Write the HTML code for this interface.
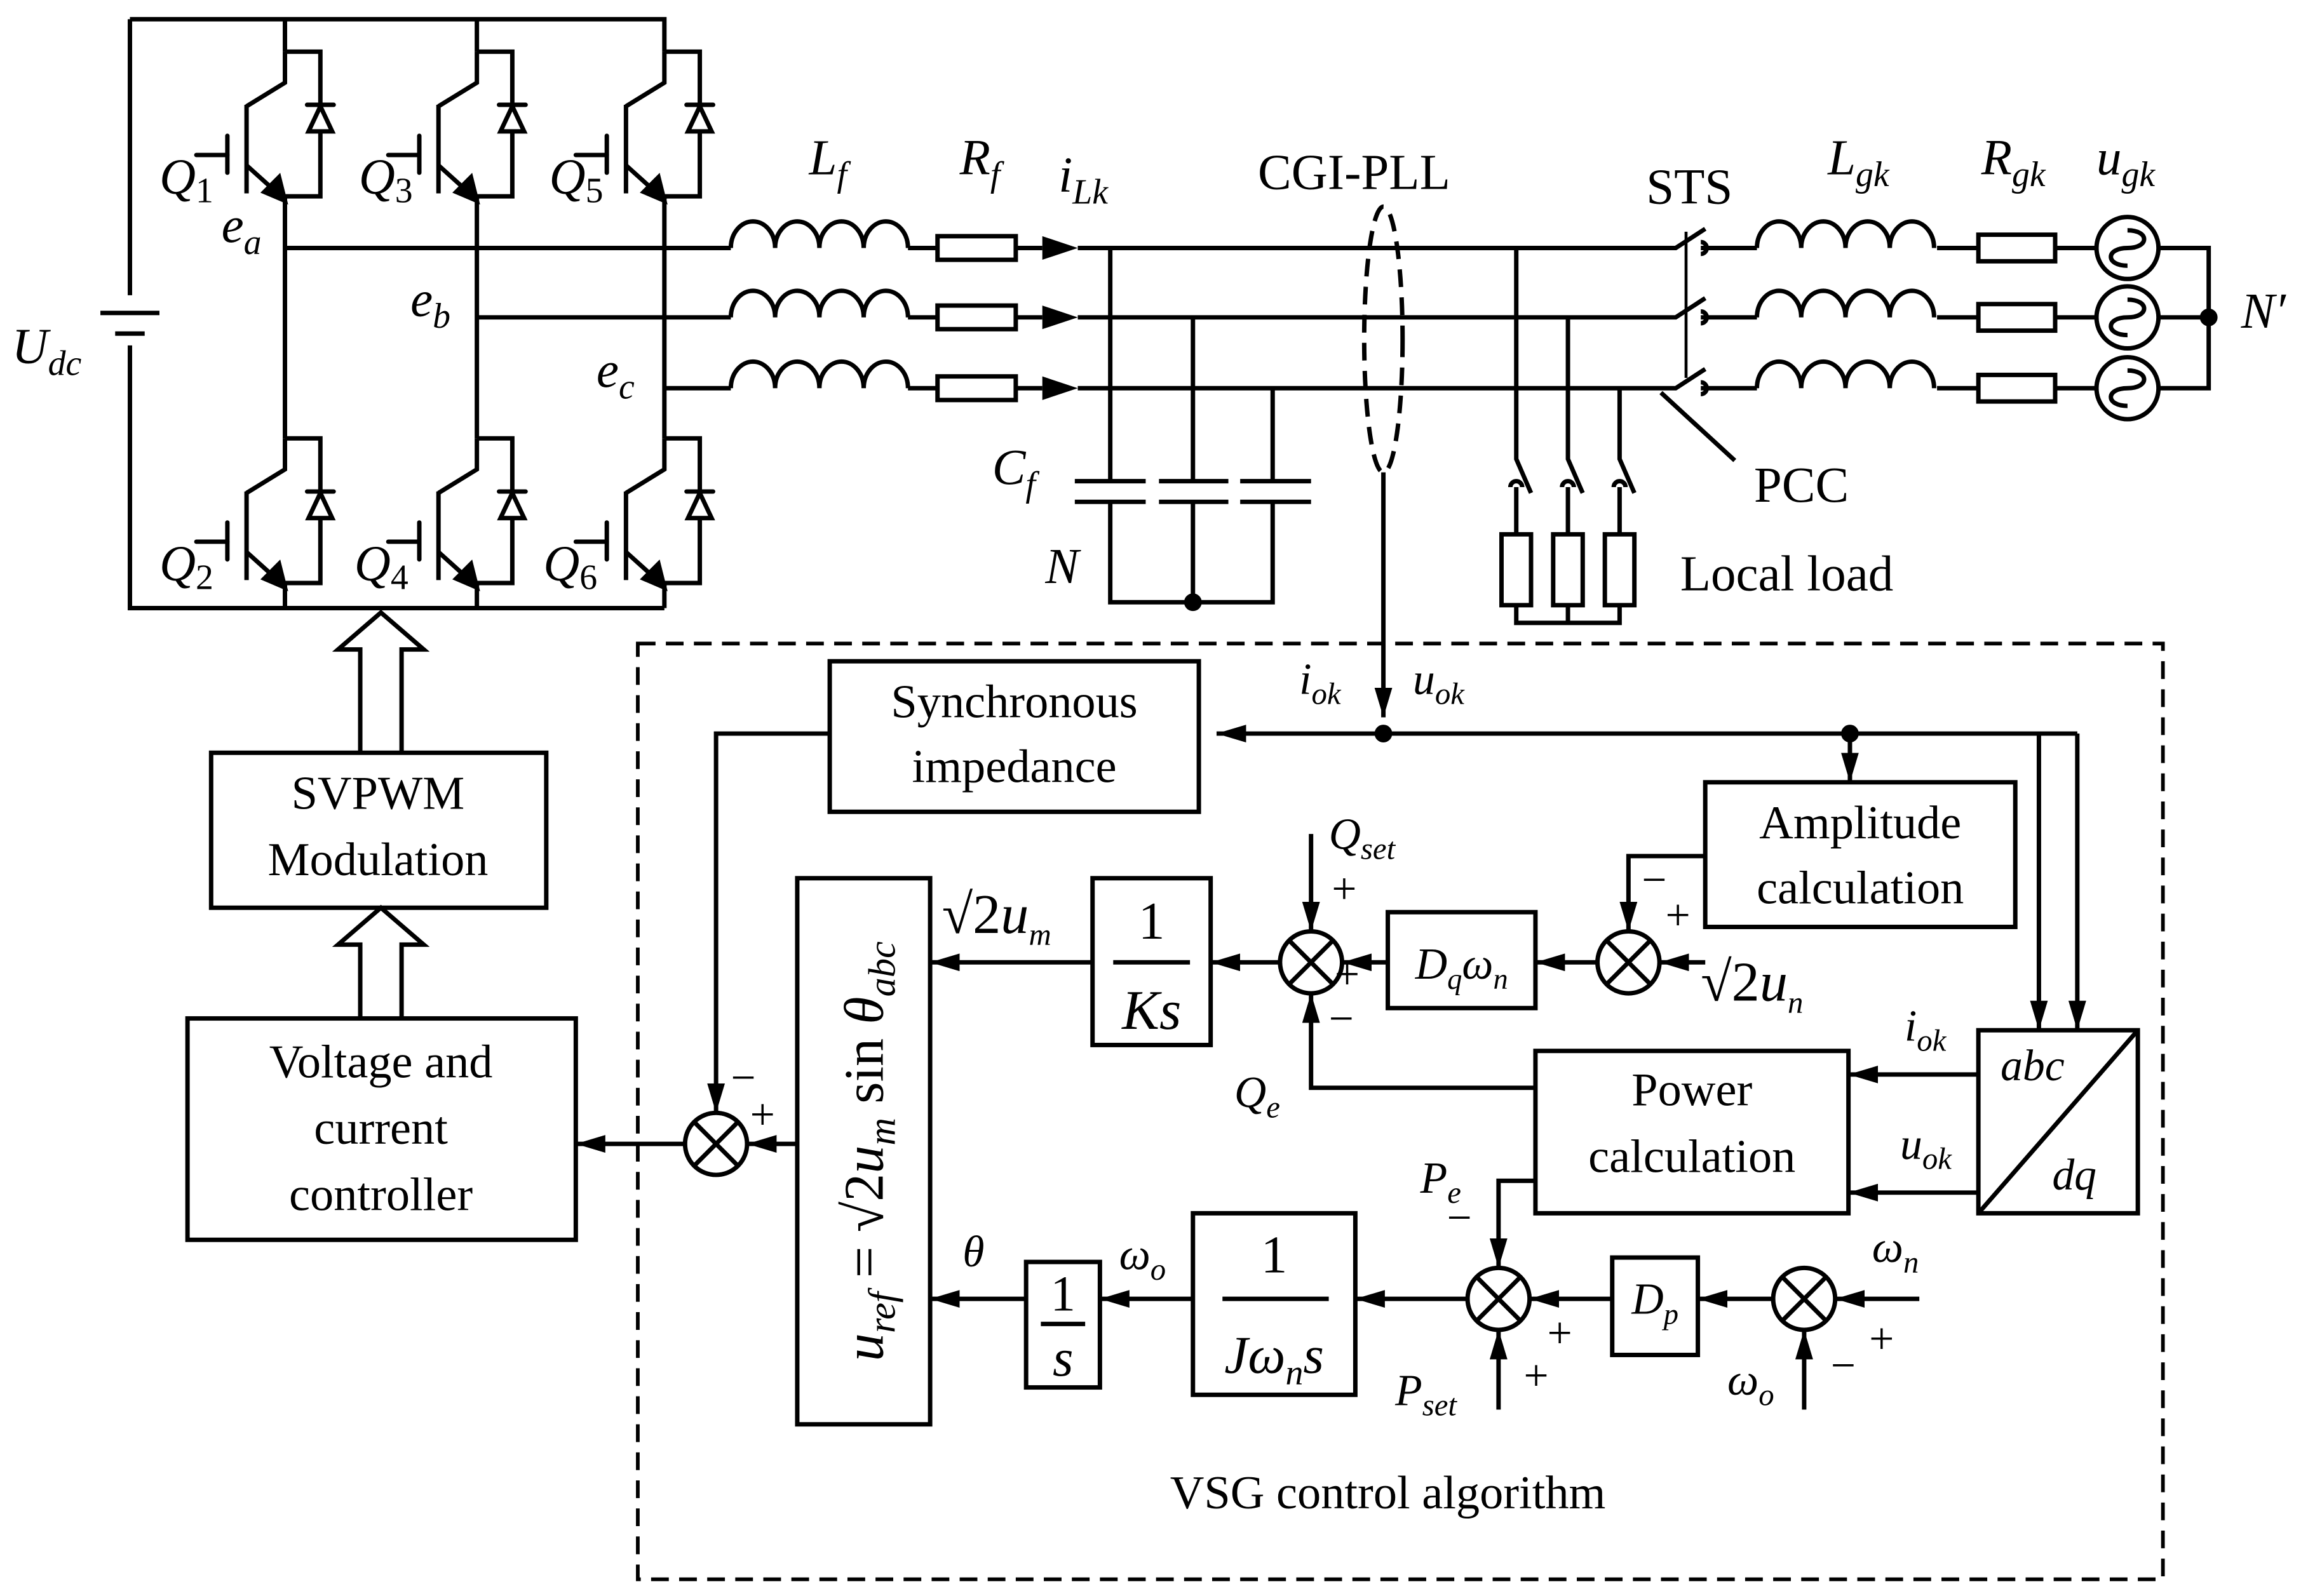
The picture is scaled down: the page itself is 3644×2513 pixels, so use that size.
<!DOCTYPE html>
<html><head><meta charset="utf-8"><style>
html,body{margin:0;padding:0;background:#fff}
svg{display:block}
text{font-family:"Liberation Serif",serif;fill:#000}
.i{font-style:italic}
</style></head><body>
<svg width="3644" height="2513" viewBox="0 0 1568 1081.3" xmlns="http://www.w3.org/2000/svg">
<defs>
<g id="sw" fill="none" stroke="#000" stroke-width="3">
<path d="M0,0 V21 L-26,37"/>
<path d="M-26,36 V96"/>
<path d="M-39,57 V82" stroke-linecap="round"/>
<path d="M-60,70 H-39" stroke-linecap="round"/>
<path d="M-26,77 L-6,95"/>
<polygon points="0,101 -14,95 -4,85" fill="#000"/>
<path d="M0,100 V98 M0,0 H24 V98 H0"/>
<path d="M15,36 H33" stroke-linecap="round"/>
<polygon points="24,37 16,54 32,54" fill="#fff"/>
</g>
<g id="ind" fill="none" stroke="#000" stroke-width="3"><path d="M0,0 a15,18 0 0 1 30,0 a15,18 0 0 1 30,0 a15,18 0 0 1 30,0 a15,18 0 0 1 30,0"/></g>
<g id="src" fill="none" stroke="#000" stroke-width="3"><circle r="21"/><path d="M-12,0 C-12,-15 0,-15 0,0 C0,15 12,15 12,0" transform="rotate(90)"/></g>
<g id="sum" fill="#fff" stroke="#000" stroke-width="3"><circle r="21"/><path d="M-15,-15 L15,15 M15,-15 L-15,15"/></g>
<marker id="a" viewBox="0 0 20 12" refX="20" refY="6" markerWidth="20" markerHeight="12" markerUnits="userSpaceOnUse" orient="auto"><path d="M0,0 L20,6 L0,12 z" fill="#000"/></marker>
</defs>

<g fill="none" stroke="#000" stroke-width="3">
<path d="M88,13 H450 V35 M88,13 V200 M88,234 V412 H450"/>
<path d="M68,212 H108 M78,226 H98" />
<path d="M193,13 V35 M193,133 V297 M193,395 V412"/>
<path d="M323,13 V35 M323,133 V297 M323,395 V412"/>
<path d="M450,133 V297 M450,395 V412"/>
<path d="M193,168 H495 M615,168 H635 M688,168 H706 M730,168 H1135 L1155,155"/>
<path d="M323,215 H495 M615,215 H635 M688,215 H706 M730,215 H1135 L1155,202"/>
<path d="M450,263 H495 M615,263 H635 M688,263 H706 M730,263 H1135 L1155,250"/>
<rect x="635" y="160" width="53" height="16"/>
<rect x="635" y="207" width="53" height="16"/>
<rect x="635" y="255" width="53" height="16"/>
<path d="M752,168 V326 M752,340 V408 H862 V340 M862,326 V263 M808,215 V326 M808,340 V408"/>
<path d="M728,326 H776 M728,340 H776 M785,326 H832 M785,340 H832 M840,326 H888 M840,340 H888"/>
<ellipse cx="937" cy="230" rx="13" ry="90" stroke-dasharray="12,7"/>
<path d="M937,320 V486" marker-end="url(#a)"/>
<path d="M1027,168 V311 L1037,334 M1062,215 V311 L1072,334 M1097,263 V311 L1107,334"/>
<path d="M1027,330 V362 M1062,330 V362 M1097,330 V362"/>
<path d="M1023,330 a4,4 0 0 1 8,0 M1058,330 a4,4 0 0 1 8,0 M1093,330 a4,4 0 0 1 8,0"/>
<rect x="1017" y="362" width="20" height="48"/><rect x="1052" y="362" width="20" height="48"/><rect x="1087" y="362" width="20" height="48"/>
<path d="M1027,410 V422 H1097 V410 M1062,410 V422"/>
<path d="M1142,157 V256" stroke-width="2"/>
<path d="M1152,164 a4,4 0 0 1 0,8 M1152,211 a4,4 0 0 1 0,8 M1152,259 a4,4 0 0 1 0,8"/>
<path d="M1152,168 H1190 M1312,168 H1340 M1392,168 H1420 M1462,168 H1496 V263 H1462 M1392,215 H1420 M1462,215 H1496 M1312,215 H1340 M1152,215 H1190 M1152,263 H1190 M1312,263 H1340 M1392,263 H1420"/>
<rect x="1340" y="159" width="52" height="18"/><rect x="1340" y="206" width="52" height="18"/><rect x="1340" y="254" width="52" height="18"/>
<path d="M1125,266 L1175,312"/>
</g>
<use href="#sw" x="193" y="35"/><use href="#sw" x="323" y="35"/><use href="#sw" x="450" y="35"/>
<use href="#sw" x="193" y="297"/><use href="#sw" x="323" y="297"/><use href="#sw" x="450" y="297"/>
<use href="#ind" x="495" y="168"/><use href="#ind" x="495" y="215"/><use href="#ind" x="495" y="263"/>
<use href="#ind" x="1190" y="168"/><use href="#ind" x="1190" y="215"/><use href="#ind" x="1190" y="263"/>
<use href="#src" x="1441" y="168"/><use href="#src" x="1441" y="215"/><use href="#src" x="1441" y="263"/>
<g fill="#000">
<polygon points="706,160 730,168 706,176"/><polygon points="706,207 730,215 706,223"/><polygon points="706,255 730,263 706,271"/>
<circle cx="808" cy="408" r="6"/><circle cx="1496" cy="215" r="6"/>
<circle cx="937" cy="497" r="6"/><circle cx="1253" cy="497" r="6"/>
</g>

<g font-size="34">
<text x="8" y="246" class="i">U<tspan font-size="24" dy="8">dc</tspan></text>
<text x="108" y="131" class="i">Q<tspan font-size="24" dy="6" font-style="normal">1</tspan></text>
<text x="243" y="131" class="i">Q<tspan font-size="24" dy="6" font-style="normal">3</tspan></text>
<text x="372" y="131" class="i">Q<tspan font-size="24" dy="6" font-style="normal">5</tspan></text>
<text x="108" y="393" class="i">Q<tspan font-size="24" dy="6" font-style="normal">2</tspan></text>
<text x="240" y="393" class="i">Q<tspan font-size="24" dy="6" font-style="normal">4</tspan></text>
<text x="368" y="393" class="i">Q<tspan font-size="24" dy="6" font-style="normal">6</tspan></text>
<text x="150" y="164" class="i">e<tspan font-size="24" dy="8">a</tspan></text>
<text x="278" y="214" class="i">e<tspan font-size="24" dy="8">b</tspan></text>
<text x="404" y="262" class="i">e<tspan font-size="24" dy="8">c</tspan></text>
<text x="548" y="118" class="i">L<tspan font-size="24" dy="8">f</tspan></text>
<text x="650" y="118" class="i">R<tspan font-size="24" dy="8">f</tspan></text>
<text x="717" y="130" class="i">i<tspan font-size="24" dy="8">Lk</tspan></text>
<text x="852" y="128">CGI-PLL</text>
<text x="1115" y="138">STS</text>
<text x="1238" y="118" class="i">L<tspan font-size="24" dy="8">gk</tspan></text>
<text x="1342" y="118" class="i">R<tspan font-size="24" dy="8">gk</tspan></text>
<text x="1420" y="118" class="i">u<tspan font-size="24" dy="8">gk</tspan></text>
<text x="1518" y="222" class="i">N′</text>
<text x="1188" y="340">PCC</text>
<text x="1138" y="400">Local load</text>
<text x="672" y="328" class="i">C<tspan font-size="24" dy="8">f</tspan></text>
<text x="708" y="395" class="i">N</text>
</g>

<g fill="none" stroke="#000" stroke-width="3">
<rect x="143" y="510" width="227" height="105"/>
<rect x="127" y="690" width="263" height="150"/>
<path d="M244,510 V440 H229 L258,415 L287,440 H272 V510"/>
<path d="M244,690 V640 H229 L258,615 L287,640 H272 V690"/>
<rect x="432" y="436" width="1033" height="634" stroke-width="2.5" stroke-dasharray="12,7"/>
<rect x="562" y="448" width="250" height="102"/>
<rect x="1155" y="530" width="210" height="98"/>
<rect x="540" y="595" width="90" height="370"/>
<rect x="740" y="595" width="80" height="113"/>
<rect x="940" y="618" width="100" height="65"/>
<rect x="1040" y="712" width="212" height="110"/>
<rect x="1340" y="698" width="108" height="124"/>
<path d="M1340,822 L1448,698"/>
<rect x="695" y="855" width="50" height="85"/>
<rect x="808" y="822" width="110" height="123"/>
<rect x="1092" y="852" width="58" height="66"/>
<path d="M754,652 H806 M705,897 H735 M828,880 H900"/>
<path d="M1407,497 H824" marker-end="url(#a)"/>
<path d="M1253,497 V530" marker-end="url(#a)"/>
<path d="M1381,497 V698" marker-end="url(#a)"/>
<path d="M1407,497 V698" marker-end="url(#a)"/>
<path d="M562,497 H485 V754" marker-end="url(#a)"/>
<path d="M464,775 H390" marker-end="url(#a)"/>
<path d="M540,775 H506" marker-end="url(#a)"/>
<path d="M740,652 H630" marker-end="url(#a)"/>
<path d="M867,652 H820" marker-end="url(#a)"/>
<path d="M888,565 V631" marker-end="url(#a)"/>
<path d="M940,652 H909" marker-end="url(#a)"/>
<path d="M1082,652 H1040" marker-end="url(#a)"/>
<path d="M1155,580 H1103 V631" marker-end="url(#a)"/>
<path d="M1155,652 H1124" marker-end="url(#a)"/>
<path d="M1040,737 H888 V673" marker-end="url(#a)"/>
<path d="M1340,728 H1252" marker-end="url(#a)"/>
<path d="M1340,808 H1252" marker-end="url(#a)"/>
<path d="M1040,800 H1015 V859" marker-end="url(#a)"/>
<path d="M1015,955 V901" marker-end="url(#a)"/>
<path d="M994,880 H918" marker-end="url(#a)"/>
<path d="M808,880 H745" marker-end="url(#a)"/>
<path d="M695,880 H630" marker-end="url(#a)"/>
<path d="M1201,880 H1150" marker-end="url(#a)"/>
<path d="M1092,880 H1036" marker-end="url(#a)"/>
<path d="M1300,880 H1243" marker-end="url(#a)"/>
<path d="M1222,955 V901" marker-end="url(#a)"/>
</g>
<use href="#sum" x="485" y="775"/><use href="#sum" x="888" y="652"/><use href="#sum" x="1103" y="652"/>
<use href="#sum" x="1015" y="880"/><use href="#sum" x="1222" y="880"/>

<g font-size="32" text-anchor="middle">
<text x="256" y="548">SVPWM</text><text x="256" y="593">Modulation</text>
<text x="258" y="730">Voltage and</text><text x="258" y="775">current</text><text x="258" y="820">controller</text>
<text x="687" y="486">Synchronous</text><text x="687" y="530">impedance</text>
<text x="1260" y="568">Amplitude</text><text x="1260" y="612">calculation</text>
<text x="1146" y="749">Power</text><text x="1146" y="794">calculation</text>
<text x="940" y="1022">VSG control algorithm</text>
<text x="780" y="636" font-size="36">1</text><text x="780" y="697" font-size="38" class="i">Ks</text>
<text x="720" y="888" font-size="34">1</text><text x="720" y="932" font-size="36" class="i">s</text>
<text x="863" y="862" font-size="36">1</text><text x="863" y="930" font-size="36" class="i">Jω<tspan font-size="24" dy="8">n</tspan><tspan dy="-8">s</tspan></text>
<text x="990" y="663" font-size="30" class="i">D<tspan font-size="20" dy="7">q</tspan><tspan dy="-7">ω</tspan><tspan font-size="20" dy="7">n</tspan></text>
<text x="1121" y="890" font-size="30" class="i">D<tspan font-size="20" dy="7">p</tspan></text>
</g>
<g font-size="30">
<text x="1355" y="732" class="i">abc</text><text x="1390" y="806" class="i">dq</text>
<text x="880" y="470" class="i">i<tspan font-size="21" dy="7">ok</tspan></text>
<text x="957" y="470" class="i">u<tspan font-size="21" dy="7">ok</tspan></text>
<text x="1290" y="705" class="i">i<tspan font-size="21" dy="7">ok</tspan></text>
<text x="1287" y="785" class="i">u<tspan font-size="21" dy="7">ok</tspan></text>
<text x="900" y="575" class="i">Q<tspan font-size="21" dy="7">set</tspan></text>
<text x="836" y="750" class="i">Q<tspan font-size="21" dy="7">e</tspan></text>
<text x="962" y="808" class="i">P<tspan font-size="21" dy="7">e</tspan></text>
<text x="945" y="952" class="i">P<tspan font-size="21" dy="7">set</tspan></text>
<text x="1268" y="855" class="i">ω<tspan font-size="21" dy="7">n</tspan></text>
<text x="1170" y="945" class="i">ω<tspan font-size="21" dy="7">o</tspan></text>
<text x="758" y="860" class="i">ω<tspan font-size="21" dy="7">o</tspan></text>
<text x="652" y="858" class="i">θ</text>
<text x="638" y="632" font-size="38">√2<tspan class="i">u</tspan><tspan font-size="21" dy="8" class="i">m</tspan></text>
<text x="1152" y="678" font-size="38">√2<tspan class="i">u</tspan><tspan font-size="21" dy="8" class="i">n</tspan></text>
<text x="495" y="740">−</text><text x="508" y="765">+</text>
<text x="902" y="612">+</text><text x="904" y="670">+</text><text x="900" y="700">−</text>
<text x="1112" y="606">−</text><text x="1128" y="630">+</text>
<text x="980" y="835">−</text><text x="1048" y="913">+</text><text x="1032" y="942">+</text>
<text x="1240" y="935">−</text><text x="1266" y="917">+</text>
</g>
<text transform="translate(598,780) rotate(-90)" font-size="38" text-anchor="middle"><tspan class="i">u</tspan><tspan class="i" font-size="26" dy="8">ref</tspan><tspan dy="-8"> = √2</tspan><tspan class="i">u</tspan><tspan class="i" font-size="26" dy="8">m</tspan><tspan dy="-8"> sin </tspan><tspan class="i">θ</tspan><tspan class="i" font-size="26" dy="8">abc</tspan></text>
</svg>
</body></html>
